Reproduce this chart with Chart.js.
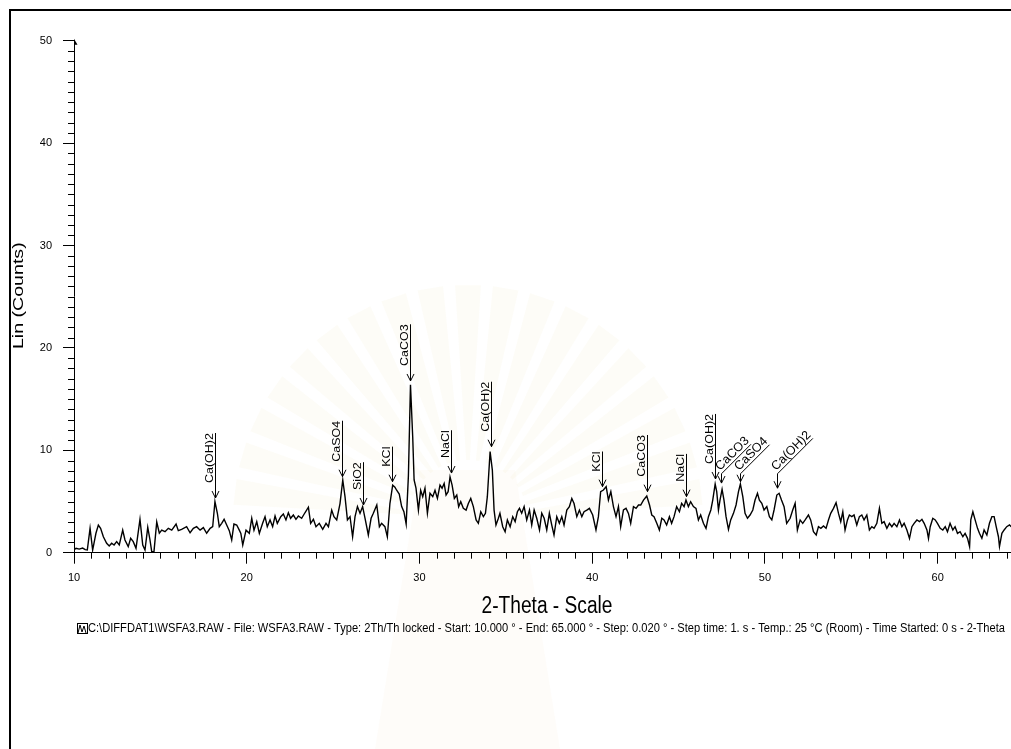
<!DOCTYPE html>
<html>
<head>
<meta charset="utf-8">
<title>WSFA3 XRD</title>
<script src="https://cdn.jsdelivr.net/npm/chart.js@4.4.1/dist/chart.umd.min.js"></script>
<style>
  html, body { margin: 0; padding: 0; background: #fff; overflow: hidden; }
  #wrap { position: relative; width: 1060px; height: 749px; }
</style>
</head>
<body>
<div id="wrap"><canvas id="xrd" width="1060" height="749"></canvas></div>
<script>
// ---------------------------------------------------------------------------
// data (2-theta in degrees, intensity in counts)
// ---------------------------------------------------------------------------
const twoTheta = [
  10.00, 10.12, 10.30, 10.50, 10.65, 10.77, 10.93, 11.08, 11.27, 11.41, 11.54, 11.70, 11.89, 12.04, 12.18, 12.32,
  12.47, 12.62, 12.82, 12.95, 13.14, 13.28, 13.43, 13.59, 13.82, 13.98, 14.11, 14.27, 14.40, 14.50, 14.63, 14.79,
  14.94, 15.08, 15.27, 15.46, 15.66, 15.91, 16.04, 16.23, 16.52, 16.72, 16.91, 17.10, 17.30, 17.49, 17.68, 17.88,
  18.03, 18.16, 18.30, 18.41, 18.55, 18.69, 18.84, 18.99, 19.13, 19.26, 19.42, 19.57, 19.66, 19.77, 19.96, 20.15,
  20.29, 20.42, 20.58, 20.73, 20.92, 21.06, 21.19, 21.35, 21.50, 21.64, 21.77, 21.97, 22.12, 22.27, 22.41, 22.54,
  22.70, 22.85, 22.99, 23.18, 23.37, 23.57, 23.70, 23.86, 24.01, 24.20, 24.40, 24.59, 24.73, 24.92, 25.05, 25.21,
  25.40, 25.56, 25.69, 25.83, 25.98, 26.13, 26.27, 26.41, 26.56, 26.71, 26.85, 27.04, 27.20, 27.33, 27.53, 27.68,
  27.81, 28.00, 28.14, 28.29, 28.45, 28.58, 28.68, 28.83, 28.97, 29.10, 29.23, 29.36, 29.48, 29.61, 29.69, 29.80,
  29.94, 30.07, 30.19, 30.32, 30.46, 30.61, 30.77, 30.90, 31.04, 31.19, 31.31, 31.43, 31.54, 31.66, 31.77, 31.89,
  32.02, 32.16, 32.27, 32.39, 32.54, 32.70, 32.83, 32.97, 33.12, 33.28, 33.41, 33.55, 33.70, 33.82, 33.93, 34.09,
  34.22, 34.32, 34.43, 34.57, 34.66, 34.82, 34.96, 35.09, 35.25, 35.40, 35.54, 35.67, 35.79, 35.92, 36.06, 36.21,
  36.37, 36.50, 36.64, 36.79, 36.95, 37.08, 37.22, 37.37, 37.52, 37.66, 37.79, 37.95, 38.10, 38.24, 38.37, 38.53,
  38.68, 38.82, 38.95, 39.11, 39.26, 39.40, 39.53, 39.69, 39.84, 40.03, 40.22, 40.36, 40.49, 40.65, 40.81, 40.94,
  41.08, 41.23, 41.38, 41.52, 41.65, 41.81, 41.96, 42.10, 42.23, 42.39, 42.54, 42.68, 42.81, 42.97, 43.16, 43.32,
  43.45, 43.58, 43.74, 43.89, 44.03, 44.16, 44.31, 44.47, 44.60, 44.74, 44.89, 45.05, 45.18, 45.32, 45.43, 45.57,
  45.70, 45.86, 46.01, 46.15, 46.28, 46.44, 46.59, 46.73, 46.87, 46.98, 47.12, 47.21, 47.31, 47.40, 47.52, 47.63,
  47.75, 47.89, 48.02, 48.18, 48.33, 48.47, 48.58, 48.72, 48.85, 48.99, 49.14, 49.30, 49.43, 49.57, 49.68, 49.82,
  49.95, 50.11, 50.26, 50.40, 50.53, 50.69, 50.82, 50.96, 51.11, 51.26, 51.46, 51.61, 51.75, 51.88, 52.04, 52.19,
  52.33, 52.52, 52.65, 52.81, 52.97, 53.10, 53.24, 53.39, 53.54, 53.68, 53.81, 53.97, 54.12, 54.26, 54.39, 54.51,
  54.64, 54.78, 54.89, 55.03, 55.16, 55.32, 55.47, 55.61, 55.74, 55.90, 56.05, 56.19, 56.32, 56.48, 56.63, 56.77,
  56.90, 57.06, 57.21, 57.35, 57.48, 57.64, 57.79, 57.93, 58.06, 58.22, 58.37, 58.51, 58.64, 58.80, 58.95, 59.09,
  59.22, 59.38, 59.47, 59.57, 59.72, 59.86, 59.99, 60.15, 60.30, 60.44, 60.57, 60.72, 60.88, 61.01, 61.15, 61.30,
  61.46, 61.59, 61.73, 61.85, 61.92, 62.04, 62.17, 62.31, 62.42, 62.56, 62.69, 62.85, 63.00, 63.14, 63.27, 63.39,
  63.52, 63.58, 63.72, 63.85, 64.00, 64.16, 64.26, 64.50, 65.00
];

const counts = [
  0.30, 0.43, 0.35, 0.45, 0.30, 0.26, 2.38, 0.26, 1.90, 2.70, 2.38, 1.56, 0.92, 0.65, 0.92, 0.75,
  1.08, 0.75, 2.20, 1.24, 0.59, 1.40, 1.08, 0.43, 3.26, 0.75, 0.26, 2.48, 1.24, 0.10, 0.10, 3.00,
  1.90, 2.20, 2.05, 2.38, 2.20, 2.80, 2.15, 2.28, 2.54, 1.95, 2.38, 2.54, 2.20, 2.45, 1.90, 2.38,
  2.54, 5.00, 3.85, 2.54, 2.87, 3.26, 2.70, 2.15, 1.24, 2.80, 2.70, 2.20, 1.89, 0.75, 2.20, 1.89,
  3.36, 2.20, 3.03, 1.89, 2.87, 3.52, 2.54, 3.20, 2.54, 3.58, 2.87, 3.52, 3.78, 3.20, 3.90, 3.36,
  3.68, 3.26, 3.58, 3.36, 3.90, 4.44, 2.87, 3.26, 2.54, 2.87, 2.28, 2.87, 2.54, 4.16, 3.52, 3.20,
  4.80, 7.10, 5.47, 3.20, 3.52, 1.56, 3.52, 4.50, 3.85, 4.50, 3.36, 1.73, 3.36, 3.85, 4.66, 2.54,
  2.87, 2.54, 1.56, 4.80, 6.60, 6.40, 6.10, 5.73, 4.50, 4.00, 2.80, 7.50, 16.40, 11.30, 7.10, 6.30,
  4.16, 6.10, 5.47, 6.30, 3.85, 5.80, 5.47, 6.10, 5.30, 6.60, 6.30, 6.77, 5.63, 5.96, 7.40, 6.60,
  5.30, 5.63, 4.50, 4.98, 4.33, 4.16, 4.80, 5.30, 4.50, 3.20, 2.87, 4.00, 3.52, 3.85, 5.47, 9.87,
  8.07, 4.16, 2.70, 3.36, 3.85, 2.54, 2.05, 3.20, 2.54, 3.52, 3.03, 4.00, 4.33, 3.85, 4.50, 3.20,
  4.16, 2.70, 4.16, 3.36, 2.22, 3.85, 3.36, 2.22, 3.85, 2.70, 1.73, 3.52, 2.87, 3.52, 2.70, 4.16,
  4.50, 5.30, 4.80, 3.52, 4.16, 3.52, 4.00, 4.16, 4.33, 3.68, 2.22, 3.52, 5.96, 6.12, 6.45, 5.14,
  5.96, 4.50, 3.52, 4.50, 2.54, 4.17, 4.33, 3.84, 2.87, 4.50, 4.33, 4.66, 4.66, 5.14, 5.54, 4.66,
  3.68, 3.52, 2.87, 2.22, 3.36, 3.20, 2.71, 3.52, 2.87, 3.52, 4.50, 4.00, 4.82, 4.50, 5.14, 4.50,
  4.98, 4.50, 4.33, 3.20, 3.68, 2.87, 2.38, 3.52, 4.17, 5.14, 6.71, 5.96, 4.17, 5.14, 6.19, 5.14,
  3.52, 2.28, 3.20, 3.84, 4.66, 5.96, 6.71, 5.47, 3.84, 3.36, 3.68, 4.17, 5.14, 5.80, 5.14, 4.82,
  4.17, 4.50, 3.52, 3.20, 4.17, 5.63, 5.80, 5.14, 4.50, 2.87, 3.36, 4.17, 4.82, 2.22, 3.20, 2.87,
  3.20, 3.68, 3.20, 2.05, 1.73, 2.54, 2.38, 2.61, 2.38, 3.20, 3.84, 4.33, 4.89, 3.84, 3.03, 4.00,
  2.22, 3.20, 3.68, 3.52, 3.68, 2.71, 3.52, 3.68, 3.20, 3.68, 2.22, 2.54, 2.38, 2.87, 4.33, 2.87,
  3.03, 2.38, 2.87, 2.54, 2.87, 2.54, 3.20, 2.54, 2.87, 2.22, 1.40, 2.54, 2.87, 3.20, 3.03, 3.26,
  2.87, 2.22, 1.40, 2.54, 3.36, 3.20, 2.87, 2.38, 2.22, 2.54, 2.05, 2.87, 2.22, 2.54, 1.89, 2.05,
  1.56, 1.89, 1.40, 0.59, 3.20, 4.00, 3.20, 2.38, 1.89, 1.40, 2.22, 1.73, 2.87, 3.52, 3.52, 2.54,
  1.56, 0.59, 1.89, 2.22, 2.54, 2.71, 2.54, 2.80, 2.60
];

// phase identification marks
const peakLabels = ['Ca(OH)2', 'CaSO4', 'SiO2', 'KCl', 'CaCO3', 'NaCl', 'Ca(OH)2',
                    'KCl', 'CaCO3', 'NaCl', 'Ca(OH)2', 'CaCO3', 'CaSO4', 'Ca(OH)2'];
const peakPositions = [18.16, 25.52, 26.72, 28.43, 29.47, 31.81, 34.15,
                       40.55, 43.16, 45.44, 47.12, 47.46, 48.56, 50.72];
const peakTips = [5.34, 7.42, 4.66, 6.93, 16.77, 7.78, 10.35,
                  6.45, 5.96, 5.47, 7.20, 6.80, 6.93, 6.30];
const slantedPeaks = [11, 12, 13];   // crowded ones are written at 45 degrees

const xTickStep = 10;
const yTickStep = 10;

const footerText = 'C:\\DIFFDAT1\\WSFA3.RAW - File: WSFA3.RAW - Type: 2Th/Th locked - Start: 10.000 ° - End: 65.000 ° - Step: 0.020 ° - Step time: 1. s - Temp.: 25 °C (Room) - Time Started: 0 s - 2-Theta';

const FONT = '"Liberation Sans", Arial, Helvetica, sans-serif';

// text that looks squeezed sideways like the scanned original
function drawSqueezed(ctx, text, x, y, size, sx, align) {
  ctx.save();
  ctx.font = size + 'px ' + FONT;
  ctx.textAlign = align || 'left';
  ctx.textBaseline = 'middle';
  ctx.translate(x, y);
  ctx.scale(sx, 1);
  ctx.fillText(text, 0, 0);
  ctx.restore();
}

// ---------------------------------------------------------------------------
// background: white page, faint emblem, frame
// ---------------------------------------------------------------------------
const pagePlugin = {
  id: 'page',
  beforeDraw(chart) {
    const ctx = chart.ctx;
    ctx.save();
    ctx.fillStyle = '#fff';
    ctx.fillRect(0, 0, chart.width, chart.height);

    // faded emblem behind the plot
    const cx = 468, cy = 520;
    ctx.fillStyle = 'rgba(236, 222, 180, 0.10)';
    for (let k = 0; k < 19; k++) {
      const a = Math.PI + 0.12 + k * (Math.PI - 0.24) / 18;
      ctx.beginPath();
      ctx.moveTo(cx + 60 * Math.cos(a - 0.03), cy + 60 * Math.sin(a - 0.03));
      ctx.lineTo(cx + 235 * Math.cos(a - 0.055), cy + 235 * Math.sin(a - 0.055));
      ctx.lineTo(cx + 235 * Math.cos(a + 0.055), cy + 235 * Math.sin(a + 0.055));
      ctx.lineTo(cx + 60 * Math.cos(a + 0.03), cy + 60 * Math.sin(a + 0.03));
      ctx.closePath();
      ctx.fill();
    }
    ctx.fillStyle = 'rgba(236, 222, 180, 0.08)';
    ctx.beginPath();
    ctx.moveTo(420, 470); ctx.lineTo(515, 470);
    ctx.lineTo(560, 749); ctx.lineTo(375, 749);
    ctx.closePath();
    ctx.fill();

    // page frame
    ctx.strokeStyle = '#000';
    ctx.lineWidth = 2;
    ctx.strokeRect(10, 10, 2000, 2000);
    ctx.restore();
  }
};

// ---------------------------------------------------------------------------
// minor ticks, axis arrow, titles, footer
// ---------------------------------------------------------------------------
const axesPlugin = {
  id: 'axesExtras',
  afterDraw(chart) {
    const { ctx, scales: { x, y }, chartArea } = chart;
    ctx.save();
    ctx.strokeStyle = '#000';
    ctx.fillStyle = '#000';
    ctx.lineWidth = 1;
    ctx.beginPath();
    for (let v = x.min + 1; v < x.max; v++) {
      if (v % xTickStep === 0) continue;
      const px = Math.round(x.getPixelForValue(v)) + 0.5;
      ctx.moveTo(px, chartArea.bottom);
      ctx.lineTo(px, chartArea.bottom + 6);
    }
    for (let v = y.min + 1; v < y.max; v++) {
      if (v % yTickStep === 0) continue;
      const py = Math.round(y.getPixelForValue(v)) + 0.5;
      ctx.moveTo(chartArea.left - 6, py);
      ctx.lineTo(chartArea.left, py);
    }
    ctx.stroke();

    // little arrow head on top of the intensity axis
    const top = y.getPixelForValue(y.max);
    ctx.beginPath();
    ctx.moveTo(chartArea.left, top - 2);
    ctx.lineTo(chartArea.left + 3.5, top + 4);
    ctx.lineTo(chartArea.left, top + 4);
    ctx.closePath();
    ctx.fill();

    // axis titles
    const midX = (chartArea.left + chartArea.right) / 2 - 2;
    drawSqueezed(ctx, '2-Theta - Scale', midX, 607, 23.5, 0.815, 'center');

    ctx.save();
    ctx.translate(19, (chartArea.top + chartArea.bottom) / 2 - 1);
    ctx.rotate(-Math.PI / 2);
    ctx.scale(1, 0.79);
    ctx.font = '19.6px ' + FONT;
    ctx.textAlign = 'center';
    ctx.textBaseline = 'middle';
    ctx.fillText('Lin (Counts)', 0, 0);
    ctx.restore();

    // scan description line with its little pattern icon
    ctx.strokeRect(77.5, 623.5, 10, 10);
    ctx.beginPath();
    ctx.moveTo(78, 633); ctx.lineTo(80, 625); ctx.lineTo(82, 632);
    ctx.lineTo(84, 626); ctx.lineTo(86, 633);
    ctx.stroke();
    ctx.font = '12.5px ' + FONT;
    const w = ctx.measureText(footerText).width;
    drawSqueezed(ctx, footerText, 88, 629, 12.5, 917 / w, 'left');
    ctx.restore();
  }
};

// ---------------------------------------------------------------------------
// peak labels with arrows
// ---------------------------------------------------------------------------
const peakPlugin = {
  id: 'peakLabels',
  afterDatasetsDraw(chart) {
    const { ctx, scales: { x, y } } = chart;
    ctx.save();
    ctx.strokeStyle = '#000';
    ctx.fillStyle = '#000';
    ctx.lineWidth = 1;
    ctx.font = '12.5px ' + FONT;
    ctx.textAlign = 'left';
    ctx.textBaseline = 'alphabetic';

    const slantBase = Math.min(...slantedPeaks.map(i => y.getPixelForValue(peakTips[i]))) - 8;

    peakLabels.forEach((label, i) => {
      const px = Math.round(x.getPixelForValue(peakPositions[i])) + 0.5;
      const tip = y.getPixelForValue(peakTips[i]);
      const w = ctx.measureText(label).width;

      if (slantedPeaks.includes(i)) {
        const d = w * Math.SQRT1_2;
        ctx.beginPath();
        ctx.moveTo(px + d, slantBase - d);
        ctx.lineTo(px, slantBase);
        ctx.lineTo(px, tip);
        ctx.stroke();
        ctx.save();
        ctx.translate(px, slantBase);
        ctx.rotate(-Math.PI / 4);
        ctx.fillText(label, 1, -3);
        ctx.restore();
      } else {
        const bottom = tip - 15;
        ctx.beginPath();
        ctx.moveTo(px, bottom - w);
        ctx.lineTo(px, tip);
        ctx.stroke();
        ctx.save();
        ctx.translate(px - 3, bottom);
        ctx.rotate(-Math.PI / 2);
        ctx.scale(1, 0.85);
        ctx.fillText(label, 0, 0);
        ctx.restore();
      }
      // open arrow head
      ctx.beginPath();
      ctx.moveTo(px - 3.5, tip - 7);
      ctx.lineTo(px, tip);
      ctx.lineTo(px + 3.5, tip - 7);
      ctx.stroke();
    });
    ctx.restore();
  }
};

// ---------------------------------------------------------------------------
// chart
// ---------------------------------------------------------------------------
const points = twoTheta.map((t, i) => ({ x: t, y: counts[i] }));

new Chart(document.getElementById('xrd'), {
  type: 'line',
  data: {
    datasets: [{
      label: 'WSFA3',
      data: points,
      borderColor: '#000',
      borderWidth: 1.4,
      pointRadius: 0,
      tension: 0,
      fill: false
    }]
  },
  options: {
    responsive: false,
    animation: false,
    devicePixelRatio: 1,
    layout: { padding: { left: 0, right: 36, top: 40.7, bottom: 156.3 } },
    plugins: { legend: { display: false }, tooltip: { enabled: false } },
    scales: {
      x: {
        type: 'linear',
        min: 10,
        max: 65,
        afterFit: s => { s.height = 40; },
        ticks: {
          stepSize: xTickStep,
          autoSkip: false,
          maxRotation: 0,
          padding: 8,
          color: '#000',
          font: { family: FONT, size: 11 },
          callback: v => (v % xTickStep === 0 ? v : null)
        },
        grid: { display: true, drawOnChartArea: false, drawTicks: true, tickLength: 11, tickColor: '#000', color: '#000' },
        border: { display: true, color: '#000', width: 1 }
      },
      y: {
        min: 0,
        max: 50,
        afterFit: s => { s.width = 74; },
        ticks: {
          stepSize: yTickStep,
          padding: 11,
          color: '#000',
          font: { family: FONT, size: 11 }
        },
        grid: { display: true, drawOnChartArea: false, drawTicks: true, tickLength: 11, tickColor: '#000', color: '#000' },
        border: { display: true, color: '#000', width: 1 }
      }
    }
  },
  plugins: [pagePlugin, axesPlugin, peakPlugin]
});
</script>
</body>
</html>
